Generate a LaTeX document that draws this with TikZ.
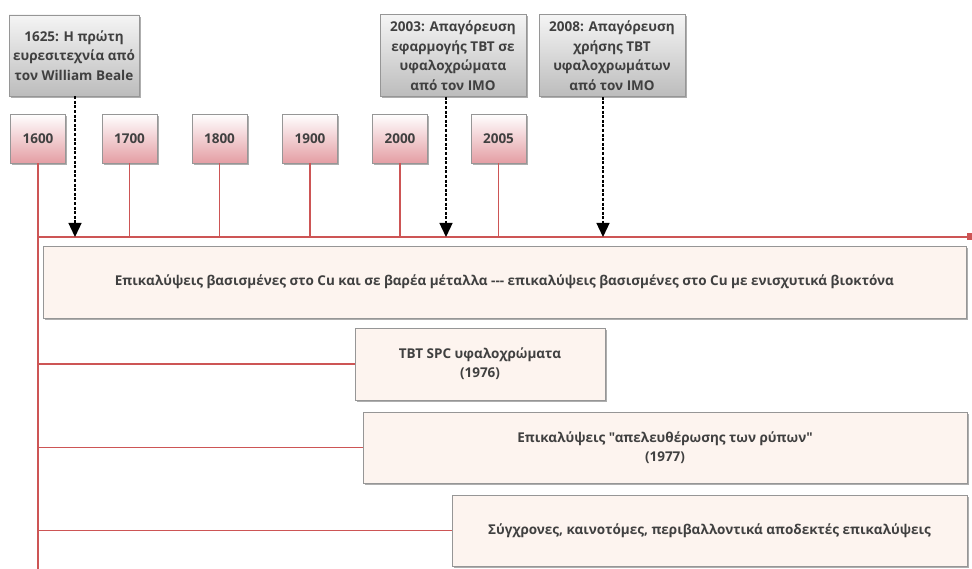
\documentclass[tikz,border=0pt]{standalone}
\usepackage{fontspec}
\setmainfont{Open Sans}[Ligatures=TeXOff]
\usetikzlibrary{arrows.meta,shadows}
\definecolor{txt}{RGB}{64,64,64}
\definecolor{tline}{RGB}{205,85,85}
\definecolor{peach}{RGB}{253,244,239}
\definecolor{pinkb}{RGB}{228,158,164}
\definecolor{grayb}{RGB}{188,188,188}
\definecolor{edge}{RGB}{150,150,150}
\tikzset{
  boxshadow/.style={drop shadow={shadow xshift=1.6pt, shadow yshift=-1.6pt, opacity=0.45, fill=black!70}},
  yearbox/.style={draw=edge, line width=0.6pt, top color=white, bottom color=pinkb,
    minimum width=55pt, minimum height=49pt, inner sep=0pt, boxshadow},
  eventbox/.style={draw=edge, line width=0.6pt, top color=white!96!black, bottom color=grayb,
    align=center, minimum width=#1, minimum height=82pt, inner sep=1pt, boxshadow, text=txt,
    font=\fontsize{13.5}{19.5}\selectfont\bfseries},
  contentbox/.style={draw=edge, line width=0.6pt, fill=peach, inner sep=0pt, boxshadow},
  redline/.style={draw=tline, line width=1.6pt},
  droparrow/.style={draw=black, line width=1.3pt, dash pattern=on 3pt off 1.6pt,
    -{Triangle[length=14pt,width=13pt]}},
  txtnode/.style={text=txt, align=center, inner sep=0pt}
}
\begin{document}
\begin{tikzpicture}[x=1pt, y=-1pt, font=\fontsize{13.5}{19}\selectfont\bfseries]
\useasboundingbox (0,0) rectangle (972,569);

% timeline anchor points
\coordinate (tlstart) at (38,237);
\coordinate (tlend) at (972,237);
\coordinate (spinebottom) at (38,569);

% year markers
\node[yearbox] (y1600) at (38,138.5) {};
\node[yearbox] (y1700) at (129.5,138.5) {};
\node[yearbox] (y1800) at (219.5,138.5) {};
\node[yearbox] (y1900) at (310,138.5) {};
\node[yearbox] (y2000) at (400,138.5) {};
\node[yearbox] (y2005) at (498.5,138.5) {};
\foreach \n/\t in {y1600/1600, y1700/1700, y1800/1800, y1900/1900, y2000/2000, y2005/2005}
  \node[txtnode] (\n-txt) at (\n) {\t};

% stems and timeline
\foreach \n in {y1700, y1800, y1900, y2000, y2005}
  \draw[redline] (\n.south) -- (\n.south |- tlstart);
\draw[redline] (y1600.south) -- (spinebottom);
\draw[redline, -{Rectangle[length=5pt,width=7pt]}] (tlstart) -- (tlend);

% coating periods
\node[contentbox, minimum width=923pt, minimum height=72pt] (c1) at (504.5,282) {};
\node[txtnode] (c1-txt) at (c1) {Επικαλύψεις βασισμένες στο Cu και σε βαρέα μέταλλα --- επικαλύψεις βασισμένες στο Cu με ενισχυτικά βιοκτόνα};

\node[contentbox, minimum width=250pt, minimum height=72pt] (c2) at (480,364) {};
\node[txtnode] (c2-txt) at (c2) {TBT SPC υφαλοχρώματα\\(1976)};

\node[contentbox, minimum width=604pt, minimum height=71pt] (c3) at (665,447.5) {};
\node[txtnode] (c3-txt) at (c3) {Επικαλύψεις "απελευθέρωσης των ρύπων"\\(1977)};

\node[contentbox, minimum width=515pt, minimum height=71pt] (c4) at (709.5,530.5) {};
\node[txtnode] (c4-txt) at (c4) {Σύγχρονες, καινοτόμες, περιβαλλοντικά αποδεκτές επικαλύψεις};

% branches from the spine
\foreach \n in {c2, c3, c4}
  \draw[redline] (\n.west -| tlstart) -- (\n.west);

% events
\node[eventbox=130pt, minimum height=81pt] (e1) at (74,55.5) {1625: Η πρώτη\\ευρεσιτεχνία από\\τον William Beale};
\node[eventbox=146pt] (e2) at (453,55.5) {2003: Απαγόρευση\\εφαρμογής TBT σε\\υφαλοχρώματα\\από τον ΙΜΟ};
\node[eventbox=146pt] (e3) at (612,55.5) {2008: Απαγόρευση\\χρήσης TBT\\υφαλοχρωμάτων\\από τον ΙΜΟ};

\coordinate (a1) at (75,237);
\coordinate (a2) at (446,237);
\coordinate (a3) at (603,237);
\draw[droparrow] (e1.south -| a1) -- (a1);
\draw[droparrow] (e2.south -| a2) -- (a2);
\draw[droparrow] (e3.south -| a3) -- (a3);
\end{tikzpicture}
\end{document}
